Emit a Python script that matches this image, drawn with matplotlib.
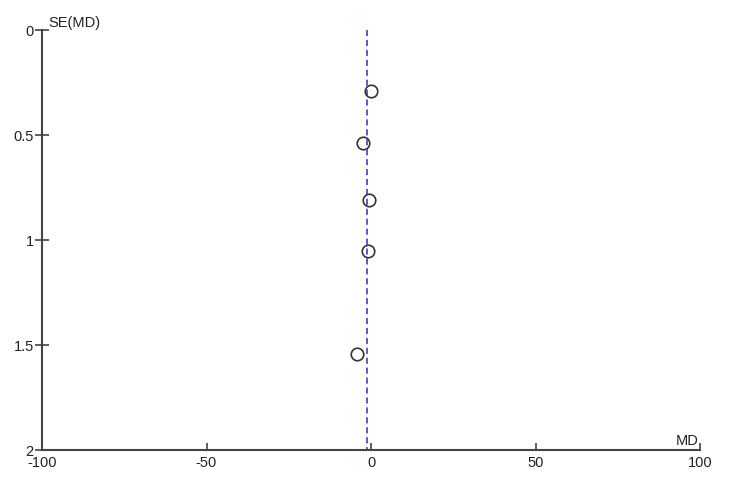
import numpy as np
import matplotlib.pyplot as plt

md = [-0.1, -2.4, -0.5, -0.8, -4.3]
se = [0.29, 0.54, 0.81, 1.05, 1.545]
pooled_md = -1.1

x_ticks = [-100, -50, 0, 50, 100]
y_ticks = [0, 0.5, 1, 1.5, 2]
y_labels = ['0', '0.5', '1', '1.5', '2']

plt.rcParams['font.family'] = ['Liberation Sans', 'DejaVu Sans']
plt.rcParams['font.size'] = 10.5
plt.rcParams['axes.unicode_minus'] = False

fig = plt.figure(figsize=(7.5, 4.9), dpi=100)
ax = fig.add_axes([42/750, 40/490, 658/750, 420/490])

ax.plot([pooled_md, pooled_md], [0, 2], color='#2b2bd0', linestyle=(0, (4, 2.5)), linewidth=1.1, zorder=1)
ax.plot(md, se, 'o', markersize=9, markerfacecolor='none', markeredgecolor='#333333', markeredgewidth=1.2, zorder=2)

ax.set_xlim(-100, 100)
ax.set_ylim(2, 0)
ax.set_xticks(x_ticks)
ax.set_yticks(y_ticks)
ax.set_yticklabels(y_labels)

for s in ['top', 'right']:
    ax.spines[s].set_visible(False)
for s in ['left', 'bottom']:
    ax.spines[s].set_color('#444444')
    ax.spines[s].set_linewidth(1.5)

ax.tick_params(axis='x', direction='in', length=5, width=1.2, color='#444444', pad=4, labelcolor='#222222')
ax.tick_params(axis='y', direction='inout', length=10, width=1.2, color='#444444', pad=1, labelcolor='#222222')

ax.text(0.01, 1.0, 'SE(MD)', transform=ax.transAxes, ha='left', va='bottom', color='#222222')
ax.text(0.998, 0.005, 'MD', transform=ax.transAxes, ha='right', va='bottom', color='#222222')

fig.savefig('out.png', dpi=100)
